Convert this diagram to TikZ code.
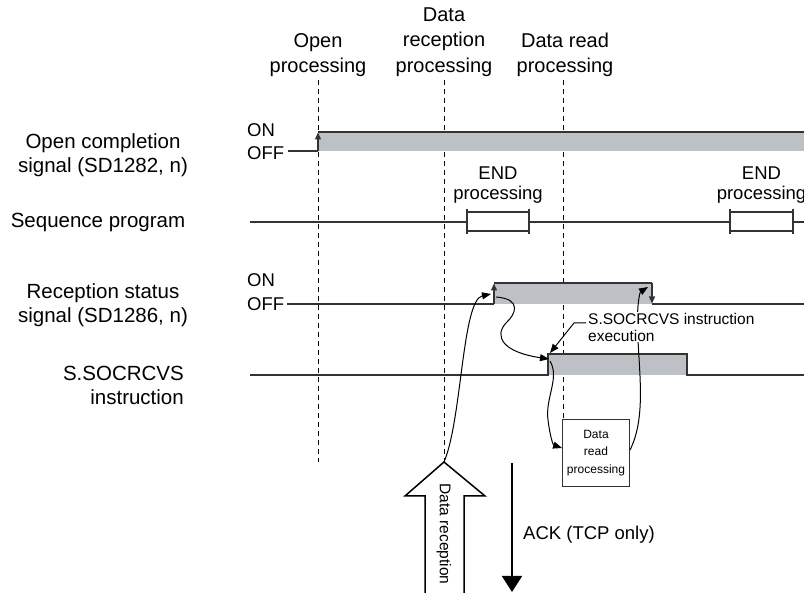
\documentclass[tikz,border=0pt]{standalone}
\usepackage{fontspec}
\setmainfont{Liberation Sans}
\usetikzlibrary{arrows.meta}
\definecolor{senal}{HTML}{BDC1C6}
\definecolor{linea}{HTML}{333333}
\tikzset{
  etiq/.style={font=\fontsize{18.5}{25}\selectfont, align=center, inner sep=0pt},
  grande/.style={font=\fontsize{20.5}{24}\selectfont, align=center, inner sep=0pt},
  chica/.style={font=\fontsize{15.5}{17}\selectfont, align=left, inner sep=0pt},
  traza/.style={line width=1.3pt, draw=linea},
  guia/.style={dash pattern=on 5pt off 4pt, line width=0.9pt},
  flecha/.style={-{Triangle[length=9pt,width=7pt]}, line width=1pt},
  flanco/.style={-{Triangle[length=7pt,width=6pt]}, line width=1.3pt, draw=linea},
}
\begin{document}
\begin{tikzpicture}[x=1pt, y=-1pt]
    \useasboundingbox (0,0) rectangle (804,593);

    % Posiciones de las lineas de tiempo
    \def\xopen{318}
    \def\xrecv{444}
    \def\xread{563}

    % Titulos de arriba
    \node[grande, font=\fontsize{20}{25.5}\selectfont] (topen) at (\xopen,55) {Open\\processing};
    \node[grande, font=\fontsize{20}{25.5}\selectfont] (trecv) at (\xrecv,42) {Data\\reception\\processing};
    \node[grande, font=\fontsize{20}{25.5}\selectfont] (tread) at (\xread+2,55) {Data read\\processing};

    % Lineas discontinuas
    \draw[guia] (\xopen,80) -- (\xopen,462);
    \draw[guia] (\xrecv,80) -- (\xrecv,462);
    \draw[guia] (\xread,80) -- (\xread,419);

    % Nombres de las senales
    \node[grande] (nopen) at (103,155) {Open completion\\signal (SD1282, n)};
    \node[grande] (nseq) at (98,222) {Sequence program};
    \node[grande] (nrecv) at (103,305) {Reception status\\signal (SD1286, n)};
    \node[grande, align=right, anchor=east] (nins) at (184,385) {S.SOCRCVS\\instruction};

    % ON / OFF
    \node[etiq, anchor=west] (on1) at (247,130) {ON};
    \node[etiq, anchor=west] (off1) at (247,153) {OFF};
    \node[etiq, anchor=west] (on2) at (247,280) {ON};
    \node[etiq, anchor=west] (off2) at (247,304) {OFF};

    % Senal de apertura completa
    \fill[senal] (\xopen,132) rectangle (810,151);
    \draw[traza] (288,151) -- (\xopen,151);
    \draw[flanco] (\xopen,151) -- (\xopen,132.5);
    \draw[traza] (\xopen,132) -- (810,132);

    % Programa de secuencia con los END
    \draw[traza] (250,222) -- (810,222);
    \foreach \xa/\xb/\nm in {467/529/a, 730/793/b} {
        \draw[traza, fill=white] (\xa,212) rectangle (\xb,231);
        \draw[traza] (\xa,209) -- (\xa,234);
        \draw[traza] (\xb,209) -- (\xb,234);
        \node[etiq, font=\fontsize{18.5}{20}\selectfont] (end\nm) at ({(\xa+\xb)/2},185) {END\\processing};
    }

    % Senal de estado de recepcion
    \fill[senal] (494,283) rectangle (652,304);
    \draw[traza] (287,304) -- (494,304);
    \draw[flanco] (494,304) -- (494,283.5);
    \draw[traza] (494,283) -- (652,283);
    \draw[flanco] (652,283) -- (652,303.5);
    \draw[traza] (652,304) -- (810,304);

    % Instruccion S.SOCRCVS
    \fill[senal] (548,354) rectangle (687,375);
    \draw[traza] (250,375) -- (548,375) -- (548,354) -- (687,354) -- (687,375) -- (810,375);

    % Caja de lectura de datos
    \node[draw=linea, line width=1pt, minimum width=67pt, minimum height=67pt, inner sep=0pt,
          align=center, font=\fontsize{12}{17.5}\selectfont] (leer) at (596,453) {Data\\read\\processing};

    % Flecha hueca de recepcion
    \coordinate (punta) at (\xrecv,462);
    \draw[line width=1.5pt, fill=white] (425,600) -- (425,496) -- (405,496) -- (punta)
        -- (485,496) -- (464,496) -- (464,600);
    \node[font=\fontsize{15.5}{17}\selectfont, rotate=-90] (trecep) at (\xrecv,534) {Data reception};

    % ACK
    \coordinate (ack1) at (512,463);
    \coordinate (ack2) at (512,592);
    \draw[line width=1.5pt, -{Triangle[length=16pt,width=20pt]}] (ack1) -- (ack2);
    \node[etiq, anchor=west] (tack) at (523,535) {ACK (TCP only)};

    % Curvas con flecha
    \coordinate (subida) at (491,294);
    \coordinate (inicio) at (549,359);
    \draw[flecha] (punta) .. controls (462,420) and (462,300) .. (subida);
    \draw[flecha] (496,297) .. controls (522,299) and (516,314) .. (506,323)
        .. controls (494,336) and (502,352) .. (inicio);
    \draw[flecha] (550,361) .. controls (560,378) and (545,398) .. (548,420)
        .. controls (550,436) and (553,445) .. (leer.west |- 0,448);
    \draw[flecha] (leer.east |- 0,450) .. controls (645,420) and (640,380) .. (638,340)
        .. controls (636,305) and (640,292) .. (648,287);

    % Etiqueta de ejecucion
    \node[chica, fill=white, anchor=west, inner sep=1pt] (tejec) at (587,327) {S.SOCRCVS instruction\\execution};
    \draw[flecha] (586,323) -- (574,323) -- (550,353);

\end{tikzpicture}
\end{document}
